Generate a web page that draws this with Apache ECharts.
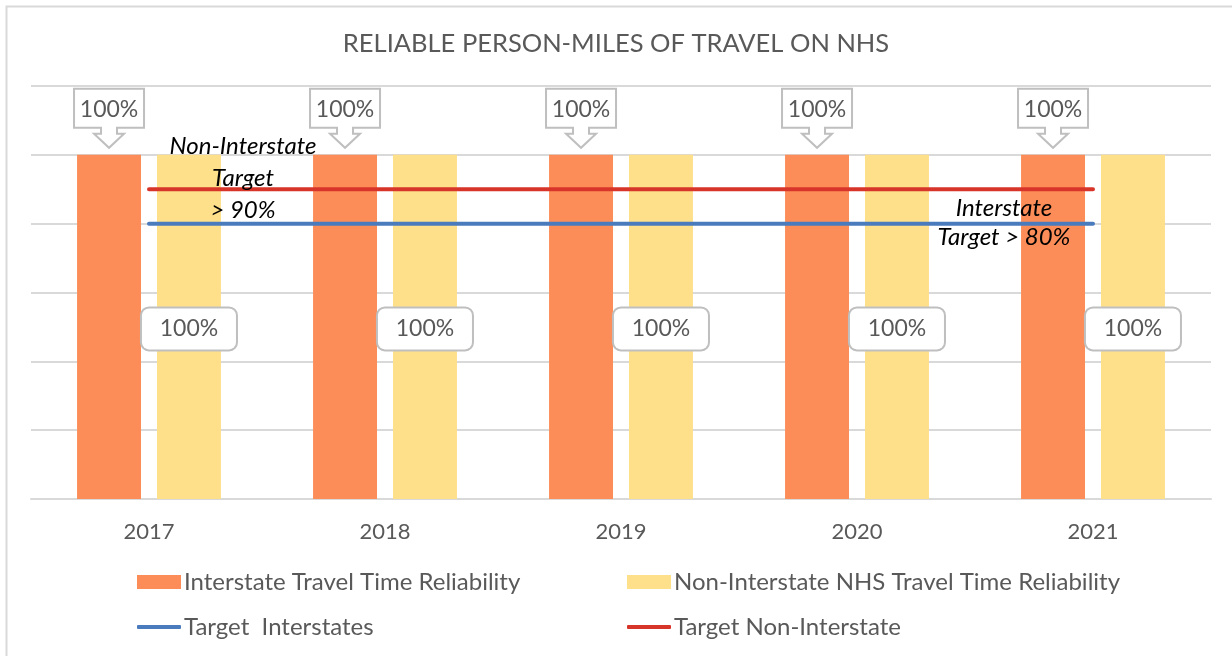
<!DOCTYPE html>
<html>
<head>
<meta charset="utf-8">
<script src="https://cdn.jsdelivr.net/npm/echarts@6/dist/echarts.min.js"></script>
<style>
  html, body { margin: 0; padding: 0; background: #fff; }
  #chart { width: 1232px; height: 656px; }
</style>
</head>
<body>
<div id="chart"></div>
<script>
const years = ['2017', '2018', '2019', '2020', '2021'];
const interstate = [1.0, 1.0, 1.0, 1.0, 1.0];
const nonInterstate = [1.0, 1.0, 1.0, 1.0, 1.0];
const targetInterstate = [0.8, 0.8, 0.8, 0.8, 0.8];
const targetNonInterstate = [0.9, 0.9, 0.9, 0.9, 0.9];
const yTicks = [0, 0.2, 0.4, 0.6, 0.8, 1.0, 1.2];

const FONT = 'Lato';
const GREY = '#595959';
const BAR_RATIO = 0.271;
const BAR_GAP = 0.25;

const chart = echarts.init(document.getElementById('chart'));

function pct(v) { return Math.round(v * 100) + '%'; }

const legendText = { fontFamily: FONT, fontSize: 24, color: GREY, lineHeight: 26, padding: [0, 0, 0, -2] };

const option = {
  animation: false,
  backgroundColor: '#fff',
  textStyle: { fontFamily: FONT },
  title: {
    text: 'RELIABLE PERSON-MILES OF TRAVEL ON NHS',
    left: 'center',
    top: 26,
    textStyle: { fontFamily: FONT, fontSize: 25.5, fontWeight: 'normal', color: GREY }
  },
  grid: { left: 31, right: 21, top: 86, bottom: 157, containLabel: false },
  xAxis: {
    type: 'category',
    data: years,
    boundaryGap: true,
    axisLine: { lineStyle: { color: '#d9d9d9', width: 2 } },
    axisTick: { show: false },
    axisLabel: { fontFamily: FONT, fontSize: 22, color: GREY, margin: 22 }
  },
  yAxis: {
    type: 'value',
    min: yTicks[0],
    max: yTicks[yTicks.length - 1],
    interval: yTicks[1] - yTicks[0],
    axisLine: { show: false },
    axisTick: { show: false },
    axisLabel: { show: false },
    splitLine: { lineStyle: { color: '#d9d9d9', width: 2 } }
  },
  legend: [
    { data: ['Interstate Travel Time Reliability'], left: 137, top: 569, padding: 0, itemWidth: 44, itemHeight: 14, icon: 'rect', itemGap: 0, textStyle: legendText },
    { data: ['Non-Interstate NHS Travel Time Reliability'], left: 627, top: 569, padding: 0, itemWidth: 44, itemHeight: 14, icon: 'rect', itemGap: 0, textStyle: legendText },
    { data: ['Target  Interstates'], left: 137, top: 614, padding: 0, itemWidth: 44, itemHeight: 4, icon: 'roundRect', itemGap: 0, textStyle: legendText },
    { data: ['Target Non-Interstate'], left: 627, top: 614, padding: 0, itemWidth: 44, itemHeight: 4, icon: 'roundRect', itemGap: 0, textStyle: legendText }
  ],
  graphic: [
    { type: 'rect', z: -10, shape: { x: 6.5, y: 6.5, width: 1240, height: 670 },
      style: { fill: 'none', stroke: '#d9d9d9', lineWidth: 2 } },
    { type: 'text', z: 100, x: 243, y: 130,
      style: { text: 'Non-Interstate\nTarget\n> 90%', align: 'center', verticalAlign: 'top',
        font: 'italic 24px Lato', lineHeight: 32, fill: '#000' } },
    { type: 'text', z: 100, x: 1004, y: 194,
      style: { text: 'Interstate\nTarget > 80%', align: 'center', verticalAlign: 'top',
        font: 'italic 24px Lato', lineHeight: 29, fill: '#000' } }
  ],
  series: [
    {
      name: 'Interstate Travel Time Reliability',
      type: 'bar',
      data: interstate,
      barWidth: (BAR_RATIO * 100) + '%',
      barGap: (BAR_GAP * 100) + '%',
      itemStyle: { color: '#fc8d59' },
      z: 2
    },
    {
      name: 'Non-Interstate NHS Travel Time Reliability',
      type: 'bar',
      data: nonInterstate,
      barWidth: (BAR_RATIO * 100) + '%',
      itemStyle: { color: '#fee08b' },
      z: 2,
      label: {
        show: true,
        position: 'inside',
        offset: [0, 2],
        formatter: p => pct(p.value),
        fontFamily: FONT,
        fontSize: 23,
        color: GREY,
        backgroundColor: '#fff',
        borderColor: '#bfbfbf',
        borderWidth: 2,
        borderRadius: 7,
        width: 94,
        height: 41,
        lineHeight: 41,
        align: 'center',
        padding: 0
      }
    },
    {
      name: 'Target  Interstates',
      type: 'line',
      data: targetInterstate,
      symbol: 'none',
      lineStyle: { color: '#4a7bbd', width: 4, cap: 'round' },
      itemStyle: { color: '#4a7bbd' },
      z: 5
    },
    {
      name: 'Target Non-Interstate',
      type: 'line',
      data: targetNonInterstate,
      symbol: 'none',
      lineStyle: { color: '#d7342a', width: 4, cap: 'round' },
      itemStyle: { color: '#d7342a' },
      z: 5
    },
    {
      name: 'callouts',
      type: 'custom',
      data: interstate.map((v, i) => [i, v]),
      encode: { x: 0, y: 1 },
      z: 6,
      silent: true,
      renderItem: function (params, api) {
        const v = api.value(1);
        const pt = api.coord([api.value(0), v]);
        const W = api.size([1, 0])[0];
        const bw = W * BAR_RATIO;
        const cx = pt[0] - bw * (1 + BAR_GAP) / 2;
        const ty = pt[1] - 7;
        const left = cx - 35, right = cx + 35, top = ty - 59, bottom = ty - 20;
        const pts = [
          [left, top], [right, top], [right, bottom],
          [cx + 8, bottom], [cx + 8, bottom + 6], [cx + 15, bottom + 6],
          [cx, ty],
          [cx - 15, bottom + 6], [cx - 8, bottom + 6], [cx - 8, bottom],
          [left, bottom]
        ];
        return {
          type: 'group',
          children: [
            { type: 'polygon', shape: { points: pts },
              style: { fill: '#fff', stroke: '#bfbfbf', lineWidth: 2 } },
            { type: 'text', x: cx, y: (top + bottom) / 2 + 1,
              style: { text: pct(v), align: 'center', verticalAlign: 'middle',
                font: '23px Lato', fill: GREY } }
          ]
        };
      }
    }
  ]
};

chart.setOption(option);
</script>
</body>
</html>
